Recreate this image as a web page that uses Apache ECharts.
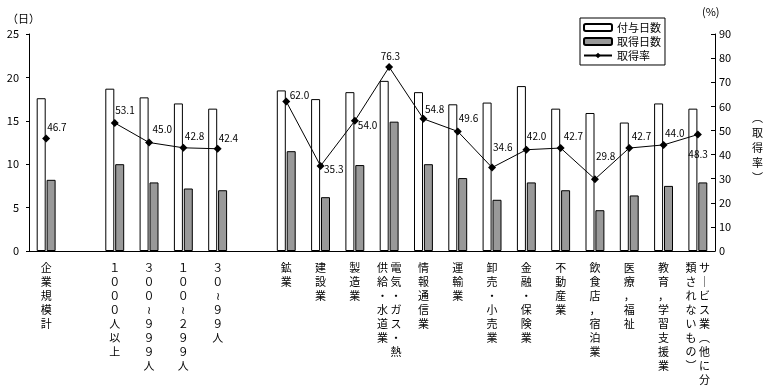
<!DOCTYPE html>
<html><head><meta charset="utf-8">
<script src="https://cdn.jsdelivr.net/npm/echarts@6/dist/echarts.min.js"></script>
<style>html,body{margin:0;padding:0;background:#fff}#c{width:768px;height:392px}</style>
</head><body><div id="c"></div>
<script>
const categories = ['企業規模計', '', '1000人以上', '300~999人', '100~299人', '30~99人', '',
  '鉱業', '建設業', '製造業', '電気・ガス・熱供給・水道業', '情報通信業', '運輸業', '卸売・小売業',
  '金融・保険業', '不動産業', '飲食店，宿泊業', '医療，福祉', '教育，学習支援業', 'サービス業（他に分類されないもの）'];
const grantedDays = [17.6, null, 18.7, 17.7, 17.0, 16.4, null,
  18.5, 17.5, 18.3, 19.6, 18.3, 16.9, 17.1, 19.0, 16.4, 15.9, 14.8, 17.0, 16.4];
const takenDays = [8.2, null, 10.0, 7.9, 7.2, 7.0, null,
  11.5, 6.2, 9.9, 14.9, 10.0, 8.4, 5.9, 7.9, 7.0, 4.7, 6.4, 7.5, 7.9];
const takeRate = [46.7, null, 53.1, 45.0, 42.8, 42.4, null,
  62.0, 35.3, 54.0, 76.3, 54.8, 49.6, 34.6, 42.0, 42.7, 29.8, 42.7, 44.0, 48.3];
const leftTicks = {min: 0, max: 25, interval: 5};
const rightTicks = {min: 0, max: 90, interval: 10};

// label placement (layout only)
const rateLabelOffsets = [[-3,-11], null, [-3.5,-13], [-0.5,-13], [-2.5,-12], [-3,-11], null,
  [-0.5,-6], [-0.5,3], [-1,4], [-12.5,-11], [-2.5,-10], [-3,-13], [-3,-20],
  [-3.5,-14], [-1,-12], [-3,-23], [-1.5,-12], [-2.5,-12], [-13.5,20]];
const columnBreaks = {'電気・ガス・熱供給・水道業': 7, 'サービス業（他に分類されないもの）': 9};

const FONT = '"Noto Sans CJK JP", sans-serif';

function toVerticalChars(s) {
  const map = {'~': '≀', '（': '︵', '）': '︶', 'ー': '｜'};
  return Array.from(s).map(ch => {
    if (map[ch]) return map[ch];
    if (ch >= '0' && ch <= '9') return String.fromCharCode(ch.charCodeAt(0) + 0xFEE0);
    return ch;
  });
}
function verticalize(name) {
  const chars = toVerticalChars(name);
  const br = columnBreaks[name];
  if (!br) return chars.join('\n');
  const right = chars.slice(0, br), left = chars.slice(br);
  const n = Math.max(right.length, left.length);
  const lines = [];
  for (let i = 0; i < n; i++) lines.push((left[i] || '　') + ' ' + (right[i] || '　'));
  return lines.join('\n');
}

const rateData = takeRate.map((v, i) => v == null ? null : {
  value: v,
  label: {offset: rateLabelOffsets[i]}
});

const chart = echarts.init(document.getElementById('c'), null, {renderer: 'canvas'});
chart.setOption({
  animation: false,
  backgroundColor: '#fff',
  textStyle: {fontFamily: FONT, color: '#000'},
  grid: {left: 29, right: 53, top: 34, bottom: 141, containLabel: false},
  legend: {
    orient: 'vertical', left: 580, top: 18,
    padding: [4, 4, 4, 3], itemGap: 3, itemWidth: 28, itemHeight: 7,
    borderColor: '#000', borderWidth: 1, backgroundColor: '#fff',
    textStyle: {fontFamily: FONT, fontSize: 11, color: '#000'},
    data: ['付与日数', '取得日数', '取得率']
  },
  xAxis: {
    type: 'category', data: categories,
    axisLine: {lineStyle: {color: '#000', width: 1}},
    axisTick: {show: false},
    axisLabel: {interval: 0, margin: 10, fontSize: 11, lineHeight: 14, color: '#000',
      fontFamily: FONT, verticalAlign: 'top', formatter: verticalize}
  },
  yAxis: [{
    type: 'value', min: leftTicks.min, max: leftTicks.max, interval: leftTicks.interval,
    splitLine: {show: false},
    axisLine: {show: true, lineStyle: {color: '#000'}},
    axisTick: {show: true, length: 3, lineStyle: {color: '#000'}},
    axisLabel: {color: '#000', fontSize: 11, margin: 10, fontFamily: FONT}
  }, {
    type: 'value', position: 'right', min: rightTicks.min, max: rightTicks.max, interval: rightTicks.interval,
    splitLine: {show: false},
    axisLine: {show: true, lineStyle: {color: '#000'}},
    axisTick: {show: true, inside: true, length: 4, lineStyle: {color: '#000'}},
    axisLabel: {color: '#000', fontSize: 11, margin: 4, fontFamily: FONT}
  }],
  series: [{
    name: '付与日数', type: 'bar', yAxisIndex: 0, data: grantedDays,
    barWidth: 9, barGap: '10%',
    itemStyle: {color: '#ffffff', borderColor: '#000', borderWidth: 1}
  }, {
    name: '取得日数', type: 'bar', yAxisIndex: 0, data: takenDays,
    barWidth: 9,
    itemStyle: {color: '#999999', borderColor: '#000', borderWidth: 1}
  }, {
    name: '取得率', type: 'line', yAxisIndex: 1, data: rateData,
    symbol: 'diamond', symbolSize: 8, connectNulls: false, z: 5,
    itemStyle: {color: '#000'},
    lineStyle: {color: '#000', width: 1},
    label: {show: true, position: 'right', distance: 0, fontSize: 10, color: '#000',
      fontFamily: FONT, formatter: p => p.value.toFixed(1)}
  }],
  graphic: [
    {type: 'text', left: 7, top: 13, style: {text: '（日）', font: '11px ' + FONT, fill: '#000'}},
    {type: 'text', left: 702, top: 6, style: {text: '(%)', font: '11px ' + FONT, fill: '#000'}},
    {type: 'text', left: 752, top: 110, style: {text: '︵\n取\n得\n率\n︶', font: '11px ' + FONT,
      fill: '#000', lineHeight: 15, align: 'center'}}
  ]
});
</script></body></html>
